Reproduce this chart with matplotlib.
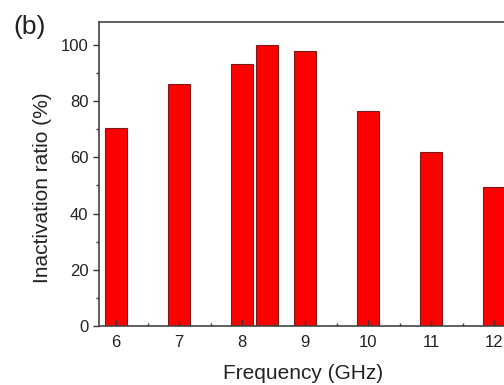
import matplotlib
matplotlib.use("Agg")
import matplotlib.pyplot as plt
from matplotlib.ticker import MultipleLocator

plt.rcParams["font.family"] = ["Liberation Sans", "DejaVu Sans"]

# frequency (GHz) and inactivation ratio (%)
freqs = [6, 7, 8, 8.4, 9, 10, 11, 12]
ratios = [70.5, 86.0, 93.0, 100.0, 97.7, 76.4, 61.8, 49.6]
xticks = [6, 7, 8, 9, 10, 11, 12]

fig = plt.figure(figsize=(5.04, 3.85), dpi=100)
# the right spine sits just past the picture's right edge, as in the cropped original
ax = fig.add_axes([0.1964, 0.1525, 0.8115, 0.7904])

ax.bar(freqs, ratios, width=0.35, color="#ff0000", edgecolor="#7a1a1a", linewidth=0.8)

ax.set_xlim(5.73, 12.22)
ax.set_ylim(0, 108)
ax.set_xticks(xticks)
ax.xaxis.set_minor_locator(MultipleLocator(0.5))
ax.set_yticks([0, 20, 40, 60, 80, 100])
ax.yaxis.set_minor_locator(MultipleLocator(10))

ax.tick_params(axis="x", which="both", direction="in", colors="#333333", labelcolor="#222222", labelsize=12)
ax.tick_params(axis="x", which="major", length=4, width=1, pad=6)
ax.tick_params(axis="x", which="minor", length=2.5, width=1)
ax.tick_params(axis="y", which="both", direction="out", colors="#333333", labelcolor="#222222", labelsize=12)
ax.tick_params(axis="y", which="major", length=4, width=1)
ax.tick_params(axis="y", which="minor", length=2.5, width=1)
for spine in ax.spines.values():
    spine.set_color("#444444")
    spine.set_linewidth(1.2)

ax.set_xlabel("Frequency (GHz)", fontsize=15, color="#222222", labelpad=10)
ax.set_ylabel("Inactivation ratio (%)", fontsize=15, color="#222222")
ax.yaxis.set_label_coords(-0.115, 0.455)
fig.text(0.026, 0.912, "(b)", fontsize=19, color="#222222")

fig.savefig("out.png", dpi=100)
